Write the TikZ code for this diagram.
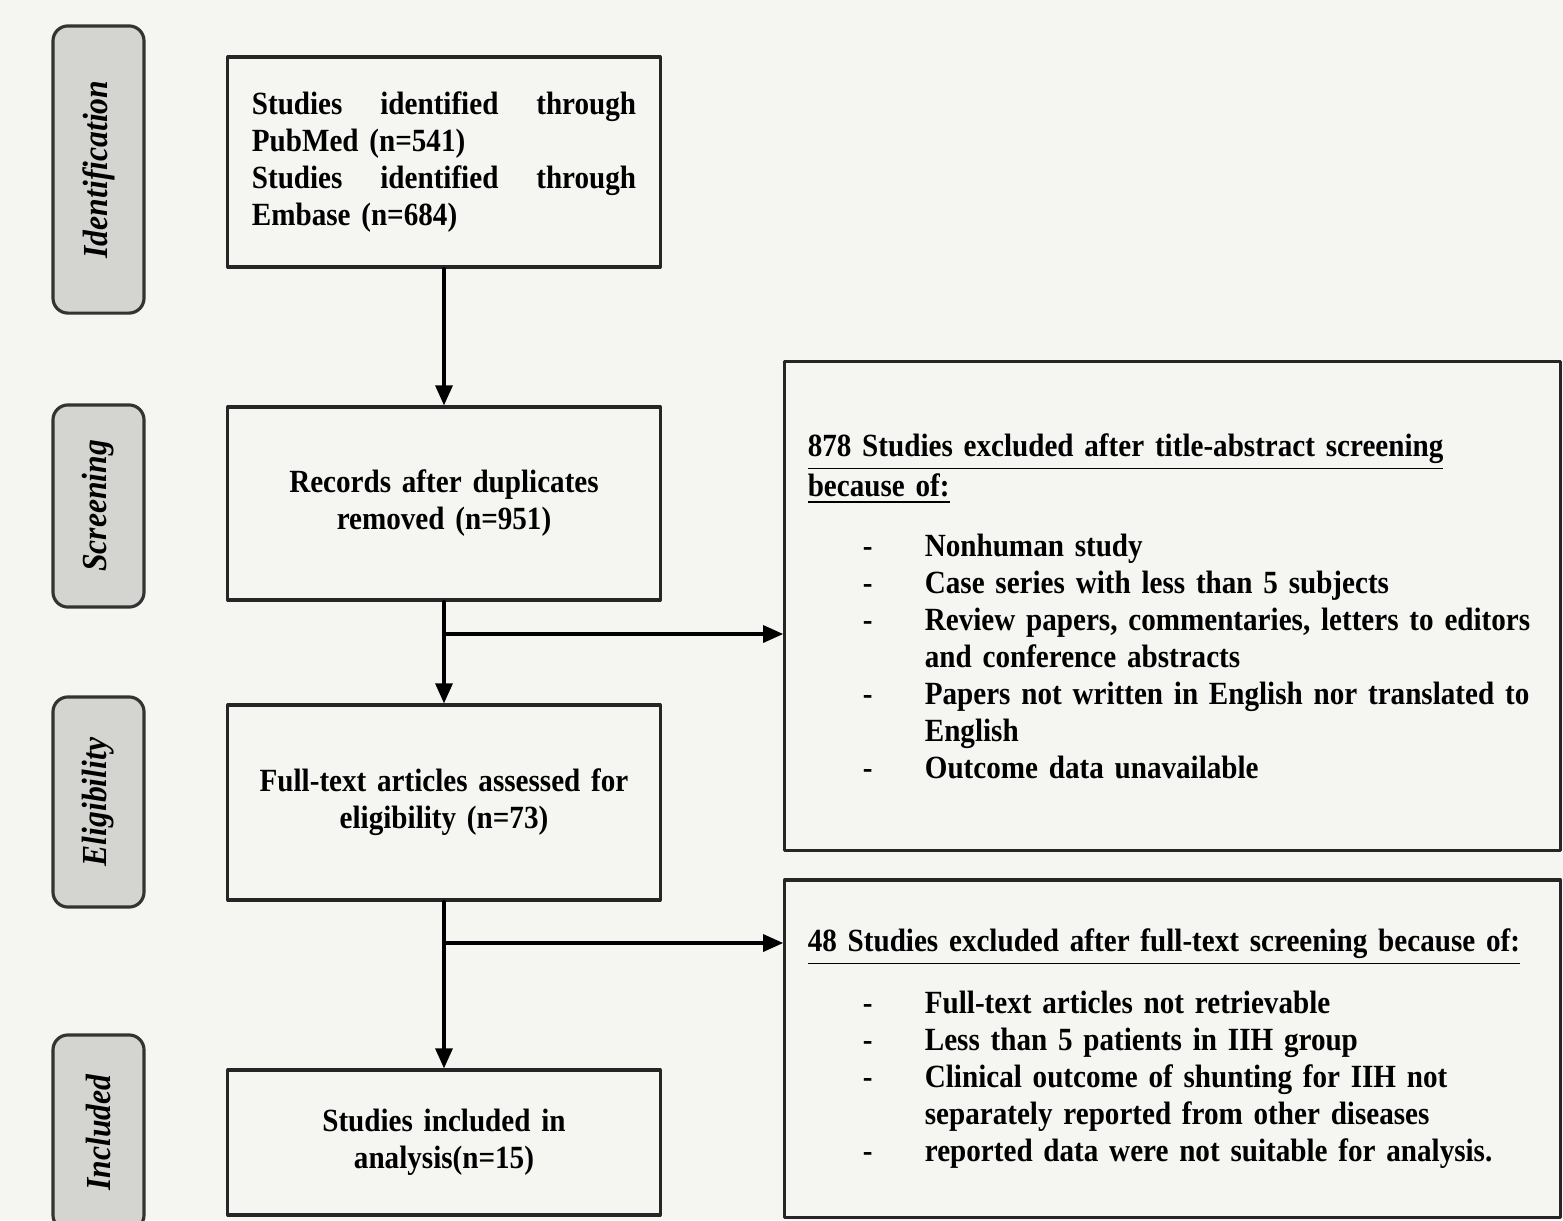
\documentclass[tikz,border=0pt]{standalone}
\usepackage{fontspec}
\setmainfont{Liberation Serif}[FakeStretch=0.9]
\usepackage{tikz}
\usetikzlibrary{arrows,arrows.meta}
\definecolor{paper}{RGB}{245,245,242}
\definecolor{tabgray}{RGB}{212,212,208}
\newcommand{\bul}{\hspace*{0.55cm}\makebox[0.62cm][l]{-}}
\newcommand{\cont}{\hspace*{1.17cm}}

\begin{document}
\begin{tikzpicture}[line cap=round,line join=round,>={Triangle[length=0.2cm,width=0.17cm]},x=0.01cm,y=-0.01cm,
	every node/.style={font=\fontsize{9.2}{10.5}\selectfont\bfseries},
	phase/.style={draw=black!80,fill=tabgray,line width=0.9pt,rounded corners=0.15cm,rotate=90,inner sep=0pt,minimum height=0.91cm,font=\fontsize{10}{12}\selectfont\bfseries\itshape},
	stage/.style={draw=black!85,line width=0.9pt,inner xsep=0.24cm,text width=3.84cm,minimum width=4.32cm,align=center},
	excl/.style={draw=black!85,line width=0.9pt,inner xsep=0.23cm,text width=7.29cm,minimum width=7.75cm,align=left}]
	\clip (0,0) rectangle (1563,1220);
	\fill[paper] (0,0) rectangle (1563,1220);
	% phases
	\node[phase,minimum width=2.87cm] (ident) at (98.5,169.5) {Identification};
	\node[phase,minimum width=2.02cm] (screen) at (98.5,506) {Screening};
	\node[phase,minimum width=2.10cm] (elig) at (98.5,802) {Eligibility};
	\node[phase,minimum width=1.95cm] (inclp) at (98.5,1132.5) {Included};
	% flow
	\node[stage,align=left,minimum height=2.10cm] (ids) at (444,162) {Studies\hfill identified\hfill through\\PubMed (n=541)\\Studies\hfill identified\hfill through\\Embase (n=684)};
	\node[stage,minimum height=1.93cm] (recs) at (444,503.5) {Records after duplicates\\removed (n=951)};
	\node[stage,minimum height=1.95cm] (full) at (444,802.5) {Full-text articles assessed for\\eligibility (n=73)};
	\node[stage,minimum height=1.45cm] (incl) at (444,1142.5) {Studies included in\\analysis(n=15)};
	% exclusions
	\node[excl,minimum height=4.88cm] (excl1) at (1172.5,606) {\underline{878 Studies excluded after title-abstract screening}\\\underline{because of:}\\[0.23cm]
		\bul Nonhuman study\\
		\bul Case series with less than 5 subjects\\
		\bul Review papers, commentaries, letters to editors\\
		\cont and conference abstracts\\
		\bul Papers not written in English nor translated to\\
		\cont English\\
		\bul Outcome data unavailable};
	\node[excl,minimum height=3.37cm] (excl2) at (1172.5,1048.5) {\underline{48 Studies excluded after full-text screening because of:}\\[0.25cm]
		\bul Full-text articles not retrievable\\
		\bul Less than 5 patients in IIH group\\
		\bul Clinical outcome of shunting for IIH not\\
		\cont separately reported from other diseases\\
		\bul reported data were not suitable for analysis.};
	\coordinate (b1) at (444,634);
	\coordinate (b2) at (444,943);
	\draw[->,line width=0.9pt] (ids) -- (recs);
	\draw[->,line width=0.9pt] (recs) -- (full);
	\draw[->,line width=0.9pt] (full) -- (incl);
	\draw[->,line width=0.9pt] (b1) -- (b1 -| excl1.west);
	\draw[->,line width=0.9pt] (b2) -- (b2 -| excl2.west);
\end{tikzpicture}
\end{document}
